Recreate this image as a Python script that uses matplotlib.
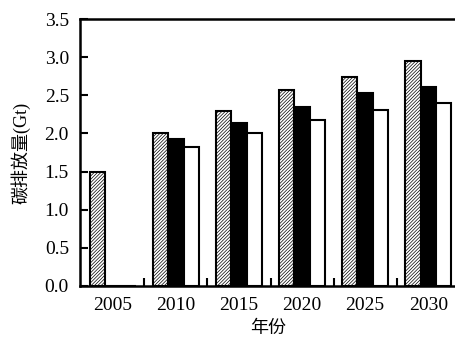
import numpy as np
import matplotlib
matplotlib.use("Agg")
import matplotlib.pyplot as plt

plt.rcParams['font.family'] = ['Liberation Serif', 'Noto Sans CJK SC']
plt.rcParams['hatch.linewidth'] = 0.5

# 碳排放量数据 (Gt)
years = ['2005', '2010', '2015', '2020', '2025', '2030']
series_a = [1.50, 2.00, 2.30, 2.57, 2.74, 2.95]   # 斜线填充
series_b = [0.00, 1.93, 2.14, 2.35, 2.53, 2.61]   # 黑色
series_c = [0.00, 1.82, 2.00, 2.17, 2.31, 2.40]   # 白色

fig = plt.figure(figsize=(4.56, 3.40), dpi=100)
ax = fig.add_axes([80 / 456, 1 - 286 / 340, 1 - 80 / 456, (286 - 19) / 340])

x = np.arange(len(years))
w = 0.245
ax.bar(x - w, series_a, w, color='white', edgecolor='black', hatch='//////////', linewidth=1.5)
ax.bar(x, series_b, w, color='black', edgecolor='black', linewidth=1.5)
ax.bar(x + w, series_c, w, color='white', edgecolor='black', linewidth=1.5)

ax.set_xlim(-0.52, 5.44)
ax.set_ylim(0, 3.5)
ax.set_yticks(np.arange(0, 3.51, 0.5))
ax.set_yticklabels([f'{v:.1f}' for v in np.arange(0, 3.51, 0.5)])
ax.set_xticks(x)
ax.set_xticklabels(years)
ax.set_xticks(x[:-1] + 0.5, minor=True)

ax.tick_params(axis='x', which='major', length=0, pad=8, labelsize=14)
ax.tick_params(axis='x', which='minor', direction='in', length=6, width=1.5)
ax.tick_params(axis='y', direction='in', length=6, width=1.5, labelsize=14, pad=8)

for side in ['left', 'bottom', 'top']:
    ax.spines[side].set_linewidth(1.8)
ax.spines['right'].set_visible(False)

ax.set_ylabel('碳排放量(Gt)', fontsize=13, labelpad=10)
ax.set_xlabel('年份', fontsize=13, labelpad=4)

fig.savefig('out.png', dpi=100)
